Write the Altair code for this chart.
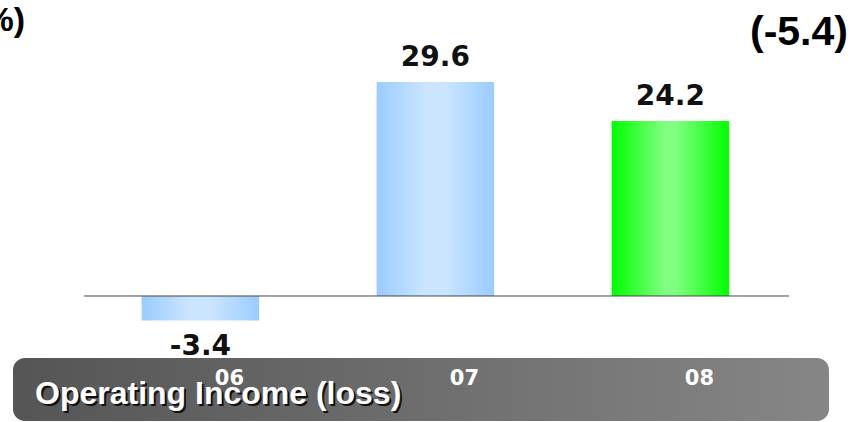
import altair as alt
import pandas as pd

# ---- data ----
years = ["06", "07", "08"]
values = [-3.4, 29.6, 24.2]
labels = ["-3.4", "29.6", "24.2"]
highlight = [False, False, True]

banner_title = ["Operating Income (loss)"]
unit_text = ["(%)"]
change_text = ["(-5.4)"]

df = pd.DataFrame({"year": years, "value": values, "label": labels, "hl": highlight})

W, H = 862, 422
YDOM = [-17.43, 40.94]


def grad(stops):
    return {"gradient": "linear", "x1": 0, "x2": 1, "y1": 0, "y2": 0,
            "stops": [{"offset": o, "color": c} for o, c in stops]}


blue = grad([(0, "#99CCFF"), (0.42, "#CCE5FF"), (0.58, "#CCE5FF"), (1, "#99CCFF")])
green = grad([(0, "#00FF00"), (0.45, "#80FF80"), (0.55, "#80FF80"), (1, "#00FF00")])
gray = grad([(0, "#555555"), (1, "#868686")])

x = alt.X("year:N", axis=None,
          scale=alt.Scale(domain=years, paddingInner=0.5, paddingOuter=0.584, align=0.516))
y = alt.Y("value:Q", axis=None,
          scale=alt.Scale(domain=YDOM, nice=False, zero=False))

base = alt.Chart(df)
tdf = pd.DataFrame({"t": banner_title})

banner = alt.Chart(tdf).mark_rect(fill=gray, cornerRadius=12).encode(
    x=alt.value(13), x2=alt.value(829), y=alt.value(358), y2=alt.value(421))

bars_blue = base.transform_filter("!datum.hl").mark_bar(fill=blue).encode(
    x=x, y=y, y2=alt.Y2Datum(0))
bars_green = base.transform_filter("datum.hl").mark_bar(fill=green).encode(
    x=x, y=y, y2=alt.Y2Datum(0))

zero_line = base.transform_aggregate(n="count()").transform_calculate(
    zero="0").mark_rule(color="#444444", strokeWidth=1).encode(
    x=alt.value(84), x2=alt.value(789), y=alt.Y("zero:Q", axis=None))

lab_pos = base.transform_filter("datum.value >= 0").mark_text(
    font="DejaVu Sans", fontWeight="bold", fontSize=28, color="#111111",
    baseline="alphabetic", dy=-16).encode(x=x, y=y, text="label:N")
lab_neg = base.transform_filter("datum.value < 0").mark_text(
    font="DejaVu Sans", fontWeight="bold", fontSize=28, color="#111111",
    baseline="alphabetic", dy=34).encode(x=x, y=y, text="label:N")

cat_labels = base.mark_text(
    font="DejaVu Sans", fontWeight="bold", fontSize=21, color="white",
    baseline="alphabetic", dx=29).encode(x=x, y=alt.value(385), text="year:N")

title_shadow = alt.Chart(tdf).mark_text(
    font="Liberation Sans", fontWeight="bold", fontSize=32, color="#111111",
    align="left", baseline="alphabetic").encode(
    x=alt.value(37), y=alt.value(406), text="t:N")
title_main = alt.Chart(tdf).mark_text(
    font="Liberation Sans", fontWeight="bold", fontSize=32, color="white",
    align="left", baseline="alphabetic").encode(
    x=alt.value(35), y=alt.value(404), text="t:N")

unit = alt.Chart(pd.DataFrame({"t": unit_text})).mark_text(
    font="Liberation Sans", fontWeight="bold", fontSize=34, color="#000000",
    align="right", baseline="alphabetic").encode(
    x=alt.value(25), y=alt.value(31), text="t:N")
change = alt.Chart(pd.DataFrame({"t": change_text})).mark_text(
    font="Liberation Sans", fontWeight="bold", fontSize=41, color="#000000",
    align="center", baseline="alphabetic").encode(
    x=alt.value(799), y=alt.value(45), text="t:N")

chart = alt.layer(
    banner, bars_blue, bars_green, zero_line, lab_pos, lab_neg,
    cat_labels, title_shadow, title_main, unit, change
).properties(
    width=W, height=H, padding=0,
    autosize=alt.AutoSizeParams(type="none"),
    background="white"
).configure_view(strokeWidth=0)

chart.save("out.html", embed_options={"renderer": "svg", "actions": False})
